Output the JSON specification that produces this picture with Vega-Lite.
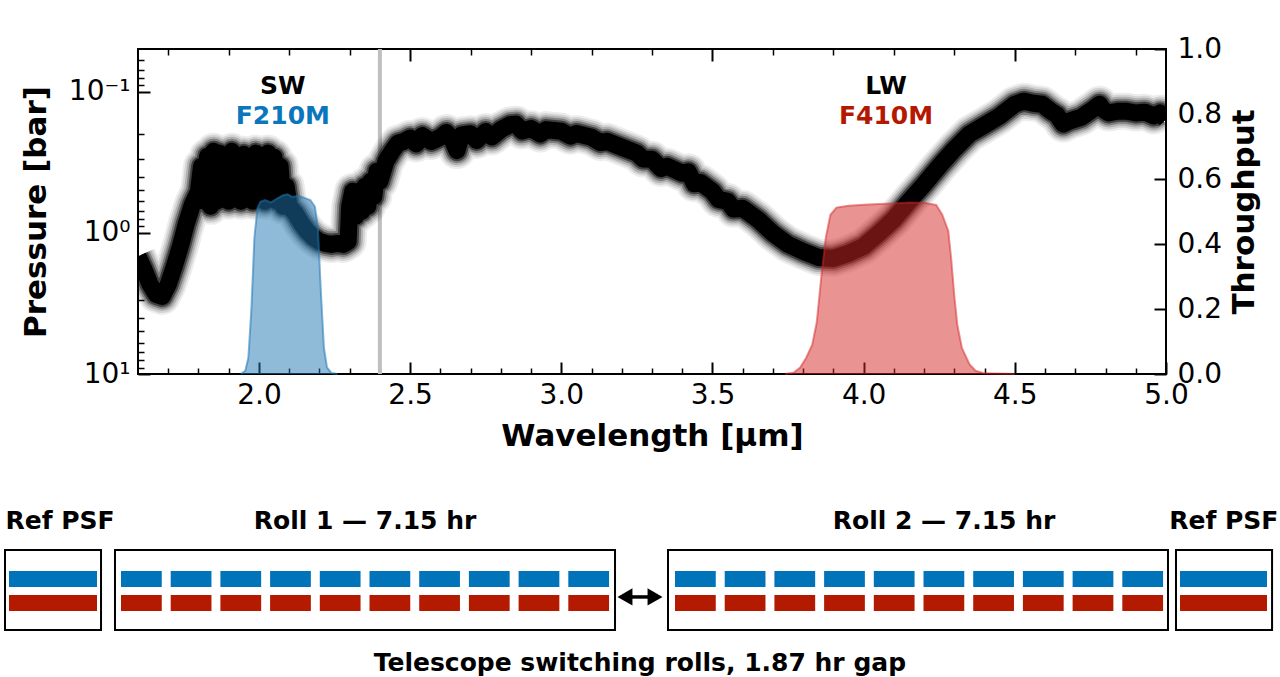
{
  "$schema": "https://vega.github.io/schema/vega-lite/v6.json",
  "padding": {"top": 34, "left": 4, "right": 2, "bottom": 0},
  "spacing": 54,
  "background": "white",
  "config": {
    "view": {"stroke": null},
    "font": "DejaVu Sans",
    "axis": {"labelFont": "DejaVu Sans", "labelFontSize": 28, "labelColor": "black", "titleFont": "DejaVu Sans", "titleFontSize": 31, "titleFontWeight": "bold", "titleColor": "black", "tickColor": "black", "domain": false, "grid": false, "labelFlush": false, "labelOverlap": false}
  },
  "datasets": {
    "cut": [{"w": 2.4}],
    "spectrum": [
      {"w": 1.60, "p": 1.470}, {"w": 1.62, "p": 1.818}, {"w": 1.64, "p": 2.323}, {"w": 1.66, "p": 2.735}, {"w": 1.68, "p": 2.825},
      {"w": 1.70, "p": 2.323}, {"w": 1.72, "p": 1.731}, {"w": 1.74, "p": 1.249}, {"w": 1.76, "p": 0.858}, {"w": 1.78, "p": 0.629},
      {"w": 1.80, "p": 0.509}, {"w": 1.81, "p": 0.338}, {"w": 1.82, "p": 0.599}, {"w": 1.83, "p": 0.287}, {"w": 1.84, "p": 0.650},
      {"w": 1.85, "p": 0.265}, {"w": 1.86, "p": 0.599}, {"w": 1.87, "p": 0.273}, {"w": 1.88, "p": 0.580}, {"w": 1.89, "p": 0.287},
      {"w": 1.90, "p": 0.599}, {"w": 1.91, "p": 0.265}, {"w": 1.92, "p": 0.561}, {"w": 1.93, "p": 0.287}, {"w": 1.94, "p": 0.599},
      {"w": 1.95, "p": 0.278}, {"w": 1.96, "p": 0.580}, {"w": 1.97, "p": 0.287}, {"w": 1.98, "p": 0.599}, {"w": 1.99, "p": 0.273},
      {"w": 2.00, "p": 0.570}, {"w": 2.01, "p": 0.287}, {"w": 2.02, "p": 0.599}, {"w": 2.03, "p": 0.273}, {"w": 2.04, "p": 0.580},
      {"w": 2.05, "p": 0.292}, {"w": 2.06, "p": 0.599}, {"w": 2.07, "p": 0.338}, {"w": 2.08, "p": 0.650}, {"w": 2.09, "p": 0.469},
      {"w": 2.10, "p": 0.650}, {"w": 2.12, "p": 0.729}, {"w": 2.14, "p": 0.858}, {"w": 2.16, "p": 0.977}, {"w": 2.18, "p": 1.078},
      {"w": 2.20, "p": 1.151}, {"w": 2.22, "p": 1.189}, {"w": 2.24, "p": 1.209}, {"w": 2.26, "p": 1.189}, {"w": 2.28, "p": 1.209},
      {"w": 2.295, "p": 1.151}, {"w": 2.30, "p": 0.650}, {"w": 2.31, "p": 0.509}, {"w": 2.32, "p": 0.765}, {"w": 2.33, "p": 0.509},
      {"w": 2.34, "p": 0.705}, {"w": 2.35, "p": 0.469}, {"w": 2.36, "p": 0.650}, {"w": 2.37, "p": 0.432}, {"w": 2.38, "p": 0.552},
      {"w": 2.39, "p": 0.367}, {"w": 2.40, "p": 0.432}, {"w": 2.42, "p": 0.312}, {"w": 2.44, "p": 0.265}, {"w": 2.46, "p": 0.232},
      {"w": 2.48, "p": 0.225}, {"w": 2.50, "p": 0.214}, {"w": 2.52, "p": 0.235}, {"w": 2.54, "p": 0.205}, {"w": 2.57, "p": 0.226},
      {"w": 2.60, "p": 0.211}, {"w": 2.62, "p": 0.195}, {"w": 2.64, "p": 0.222}, {"w": 2.655, "p": 0.262}, {"w": 2.67, "p": 0.203},
      {"w": 2.70, "p": 0.199}, {"w": 2.72, "p": 0.222}, {"w": 2.75, "p": 0.192}, {"w": 2.77, "p": 0.210}, {"w": 2.80, "p": 0.186},
      {"w": 2.83, "p": 0.172}, {"w": 2.85, "p": 0.170}, {"w": 2.87, "p": 0.190}, {"w": 2.90, "p": 0.183}, {"w": 2.93, "p": 0.200},
      {"w": 2.95, "p": 0.186}, {"w": 3.00, "p": 0.191}, {"w": 3.03, "p": 0.207}, {"w": 3.05, "p": 0.198}, {"w": 3.10, "p": 0.211},
      {"w": 3.13, "p": 0.230}, {"w": 3.15, "p": 0.225}, {"w": 3.20, "p": 0.248}, {"w": 3.25, "p": 0.273}, {"w": 3.27, "p": 0.300},
      {"w": 3.30, "p": 0.302}, {"w": 3.33, "p": 0.350}, {"w": 3.35, "p": 0.338}, {"w": 3.40, "p": 0.379}, {"w": 3.42, "p": 0.37},
      {"w": 3.44, "p": 0.45}, {"w": 3.46, "p": 0.44}, {"w": 3.50, "p": 0.509}, {"w": 3.52, "p": 0.58}, {"w": 3.55, "p": 0.599},
      {"w": 3.57, "p": 0.68}, {"w": 3.60, "p": 0.671}, {"w": 3.65, "p": 0.803}, {"w": 3.70, "p": 1.010}, {"w": 3.75, "p": 1.209},
      {"w": 3.80, "p": 1.355}, {"w": 3.85, "p": 1.495}, {"w": 3.90, "p": 1.519}, {"w": 3.95, "p": 1.400}, {"w": 4.00, "p": 1.249},
      {"w": 4.05, "p": 1.010}, {"w": 4.10, "p": 0.803}, {"w": 4.15, "p": 0.599}, {"w": 4.20, "p": 0.454}, {"w": 4.25, "p": 0.338},
      {"w": 4.30, "p": 0.256}, {"w": 4.35, "p": 0.200}, {"w": 4.40, "p": 0.173}, {"w": 4.45, "p": 0.149}, {"w": 4.50, "p": 0.123},
      {"w": 4.53, "p": 0.117}, {"w": 4.56, "p": 0.121}, {"w": 4.59, "p": 0.123}, {"w": 4.62, "p": 0.138}, {"w": 4.64, "p": 0.147},
      {"w": 4.66, "p": 0.170}, {"w": 4.68, "p": 0.162}, {"w": 4.70, "p": 0.157}, {"w": 4.72, "p": 0.152}, {"w": 4.74, "p": 0.142},
      {"w": 4.76, "p": 0.133}, {"w": 4.78, "p": 0.123}, {"w": 4.79, "p": 0.133}, {"w": 4.81, "p": 0.142}, {"w": 4.84, "p": 0.138},
      {"w": 4.87, "p": 0.138}, {"w": 4.90, "p": 0.142}, {"w": 4.93, "p": 0.140}, {"w": 4.96, "p": 0.149}, {"w": 4.98, "p": 0.142},
      {"w": 5.00, "p": 0.157}
    ],
    "f210m": [
      {"w": 1.94, "t": 0}, {"w": 1.955, "t": 0.01}, {"w": 1.965, "t": 0.05}, {"w": 1.975, "t": 0.2}, {"w": 1.985, "t": 0.42},
      {"w": 1.995, "t": 0.51}, {"w": 2.005, "t": 0.53}, {"w": 2.02, "t": 0.535}, {"w": 2.04, "t": 0.528}, {"w": 2.06, "t": 0.54},
      {"w": 2.08, "t": 0.55}, {"w": 2.095, "t": 0.553}, {"w": 2.11, "t": 0.545}, {"w": 2.13, "t": 0.548}, {"w": 2.15, "t": 0.542},
      {"w": 2.17, "t": 0.535}, {"w": 2.185, "t": 0.515}, {"w": 2.195, "t": 0.45}, {"w": 2.205, "t": 0.25}, {"w": 2.215, "t": 0.08},
      {"w": 2.225, "t": 0.02}, {"w": 2.24, "t": 0.003}, {"w": 2.26, "t": 0}
    ],
    "f410m": [
      {"w": 3.74, "t": 0}, {"w": 3.77, "t": 0.005}, {"w": 3.79, "t": 0.02}, {"w": 3.81, "t": 0.05}, {"w": 3.83, "t": 0.09},
      {"w": 3.845, "t": 0.16}, {"w": 3.86, "t": 0.30}, {"w": 3.875, "t": 0.42}, {"w": 3.89, "t": 0.49}, {"w": 3.91, "t": 0.512},
      {"w": 3.95, "t": 0.518}, {"w": 4.00, "t": 0.521}, {"w": 4.05, "t": 0.523}, {"w": 4.10, "t": 0.525}, {"w": 4.15, "t": 0.528},
      {"w": 4.20, "t": 0.527}, {"w": 4.24, "t": 0.52}, {"w": 4.26, "t": 0.49}, {"w": 4.28, "t": 0.44}, {"w": 4.29, "t": 0.35},
      {"w": 4.30, "t": 0.24}, {"w": 4.31, "t": 0.15}, {"w": 4.325, "t": 0.08}, {"w": 4.35, "t": 0.03}, {"w": 4.37, "t": 0.01},
      {"w": 4.40, "t": 0.002}, {"w": 4.50, "t": 0}
    ],
    "filterNames": [
      {"module": "SW", "filter": "F210M", "w": 2.079},
      {"module": "LW", "filter": "F410M", "w": 4.074}
    ],
    "boxes": [
      {"block": "Ref PSF before", "start": -2.334, "end": -0.402},
      {"block": "Roll 1", "start": -0.121, "end": 9.94},
      {"block": "Roll 2", "start": 11.006, "end": 21.066},
      {"block": "Ref PSF after", "start": 21.227, "end": 23.16}
    ],
    "exposures": [
      {"block": "Ref PSF before", "start": -2.254, "end": -0.483},
      {"block": "Roll 1", "start": 0, "end": 0.82}, {"block": "Roll 1", "start": 1, "end": 1.82},
      {"block": "Roll 1", "start": 2, "end": 2.82}, {"block": "Roll 1", "start": 3, "end": 3.82},
      {"block": "Roll 1", "start": 4, "end": 4.82}, {"block": "Roll 1", "start": 5, "end": 5.82},
      {"block": "Roll 1", "start": 6, "end": 6.82}, {"block": "Roll 1", "start": 7, "end": 7.82},
      {"block": "Roll 1", "start": 8, "end": 8.82}, {"block": "Roll 1", "start": 9, "end": 9.82},
      {"block": "Roll 2", "start": 11.147, "end": 11.967}, {"block": "Roll 2", "start": 12.147, "end": 12.967},
      {"block": "Roll 2", "start": 13.147, "end": 13.967}, {"block": "Roll 2", "start": 14.147, "end": 14.967},
      {"block": "Roll 2", "start": 15.147, "end": 15.967}, {"block": "Roll 2", "start": 16.147, "end": 16.967},
      {"block": "Roll 2", "start": 17.147, "end": 17.967}, {"block": "Roll 2", "start": 18.147, "end": 18.967},
      {"block": "Roll 2", "start": 19.147, "end": 19.967}, {"block": "Roll 2", "start": 20.147, "end": 20.967},
      {"block": "Ref PSF after", "start": 21.308, "end": 23.058}
    ],
    "blockLabels": [
      {"label": "Ref PSF", "pos": -1.227},
      {"label": "Roll 1 — 7.15 hr", "pos": 4.91},
      {"label": "Roll 2 — 7.15 hr", "pos": 16.56},
      {"label": "Ref PSF", "pos": 22.19}
    ],
    "gap": [{"from": 10.14, "to": 10.745, "mid": 10.44, "note": "Telescope switching rolls, 1.87 hr gap"}]
  },
  "vconcat": [
    {
      "width": 1028,
      "height": 325,
      "view": {"stroke": "black", "strokeWidth": 2},
      "layer": [
        {
          "data": {"name": "cut"},
          "mark": {"type": "rule", "color": "#bfbfbf", "strokeWidth": 4},
          "encoding": {"x": {"field": "w", "type": "quantitative", "scale": {"domain": [1.6, 5], "nice": false, "zero": false}, "axis": null}}
        },
        {
          "data": {"name": "spectrum"},
          "encoding": {
            "x": {"field": "w", "type": "quantitative", "scale": {"domain": [1.6, 5], "nice": false, "zero": false},
              "axis": {"orient": "bottom", "title": "Wavelength [μm]", "titlePadding": 12,
                "values": [1.7, 1.8, 1.9, 2.0, 2.1, 2.2, 2.3, 2.4, 2.5, 2.6, 2.7, 2.8, 2.9, 3.0, 3.1, 3.2, 3.3, 3.4, 3.5, 3.6, 3.7, 3.8, 3.9, 4.0, 4.1, 4.2, 4.3, 4.4, 4.5, 4.6, 4.7, 4.8, 4.9, 5.0],
                "labelExpr": "abs(datum.value*2 - round(datum.value*2)) < 0.01 ? format(datum.value, '.1f') : ''",
                "tickSize": {"condition": {"test": "abs(datum.value*2 - round(datum.value*2)) < 0.01", "value": -12}, "value": -6},
                "tickWidth": {"condition": {"test": "abs(datum.value*2 - round(datum.value*2)) < 0.01", "value": 2}, "value": 1.5},
                "labelPadding": {"condition": {"test": "abs(datum.value*2 - round(datum.value*2)) < 0.01", "value": 19}, "value": 0}}},
            "y": {"field": "p", "type": "quantitative", "scale": {"type": "log", "domain": [0.05, 10], "reverse": true, "nice": false},
              "axis": {"orient": "left", "title": "Pressure [bar]", "titlePadding": 16,
                "values": [0.06, 0.07, 0.08, 0.09, 0.1, 0.2, 0.3, 0.4, 0.5, 0.6, 0.7, 0.8, 0.9, 1, 2, 3, 4, 5, 6, 7, 8, 9, 10],
                "labelExpr": "datum.value == 0.1 ? '10⁻¹' : (datum.value == 1 ? '10⁰' : (datum.value == 10 ? '10¹' : ''))",
                "tickSize": {"condition": {"test": "indexof([0.1, 1, 10], datum.value) >= 0", "value": -12}, "value": -6},
                "tickWidth": {"condition": {"test": "indexof([0.1, 1, 10], datum.value) >= 0", "value": 2}, "value": 1.5},
                "labelPadding": {"condition": {"test": "indexof([0.1, 1, 10], datum.value) >= 0", "value": 20}, "value": 0}}}
          },
          "layer": [
            {"mark": {"type": "line", "color": "black", "strokeWidth": 37, "opacity": 0.07, "strokeJoin": "round", "clip": true}},
            {"mark": {"type": "line", "color": "black", "strokeWidth": 33, "opacity": 0.1, "strokeJoin": "round", "clip": true}},
            {"mark": {"type": "line", "color": "black", "strokeWidth": 29, "opacity": 0.16, "strokeJoin": "round", "clip": true}},
            {"mark": {"type": "line", "color": "black", "strokeWidth": 25, "opacity": 0.28, "strokeJoin": "round", "clip": true}},
            {"mark": {"type": "line", "color": "black", "strokeWidth": 21, "opacity": 0.5, "strokeJoin": "round", "clip": true}},
            {"mark": {"type": "line", "color": "black", "strokeWidth": 17, "opacity": 1, "strokeJoin": "round", "clip": true}}
          ]
        },
        {
          "layer": [
            {"data": {"name": "f210m"},
              "mark": {"type": "area", "color": "#1f77b4", "opacity": 0.5, "line": {"color": "#1f77b4", "strokeWidth": 2, "opacity": 0.55}},
              "encoding": {
                "x": {"field": "w", "type": "quantitative", "scale": {"domain": [1.6, 5], "nice": false, "zero": false},
                  "axis": {"orient": "top", "title": null, "labels": false,
                    "values": [1.7, 1.8, 1.9, 2.0, 2.1, 2.2, 2.3, 2.4, 2.5, 2.6, 2.7, 2.8, 2.9, 3.0, 3.1, 3.2, 3.3, 3.4, 3.5, 3.6, 3.7, 3.8, 3.9, 4.0, 4.1, 4.2, 4.3, 4.4, 4.5, 4.6, 4.7, 4.8, 4.9],
                    "tickSize": {"condition": {"test": "abs(datum.value*2 - round(datum.value*2)) < 0.01", "value": -12}, "value": -6},
                    "tickWidth": {"condition": {"test": "abs(datum.value*2 - round(datum.value*2)) < 0.01", "value": 2}, "value": 1.5}}},
                "y": {"field": "t", "type": "quantitative", "scale": {"domain": [0, 1], "nice": false, "zero": false},
                  "axis": {"orient": "right", "title": "Throughput", "titlePadding": 8, "titleAngle": 270, "titleBaseline": "top",
                    "values": [0, 0.05, 0.1, 0.15, 0.2, 0.25, 0.3, 0.35, 0.4, 0.45, 0.5, 0.55, 0.6, 0.65, 0.7, 0.75, 0.8, 0.85, 0.9, 0.95, 1.0],
                    "labelExpr": "abs(datum.value*5 - round(datum.value*5)) < 0.01 ? format(datum.value, '.1f') : ''",
                    "tickSize": {"condition": {"test": "abs(datum.value*5 - round(datum.value*5)) < 0.01", "value": -12}, "value": -6},
                    "tickWidth": {"condition": {"test": "abs(datum.value*5 - round(datum.value*5)) < 0.01", "value": 2}, "value": 1.5},
                    "labelPadding": {"condition": {"test": "abs(datum.value*5 - round(datum.value*5)) < 0.01", "value": 23}, "value": 0}}}
              }},
            {"data": {"name": "f410m"},
              "mark": {"type": "area", "color": "#d62728", "opacity": 0.5, "line": {"color": "#d62728", "strokeWidth": 2, "opacity": 0.5}},
              "encoding": {
                "x": {"field": "w", "type": "quantitative"},
                "y": {"field": "t", "type": "quantitative"}
              }},
            {"data": {"name": "filterNames"},
              "mark": {"type": "text", "fontWeight": "bold", "fontSize": 25, "baseline": "alphabetic", "align": "center", "color": "black"},
              "encoding": {
                "x": {"field": "w", "type": "quantitative"},
                "y": {"datum": 0.8615, "type": "quantitative"},
                "text": {"field": "module"}
              }},
            {"data": {"name": "filterNames"},
              "mark": {"type": "text", "fontWeight": "bold", "fontSize": 25, "baseline": "alphabetic", "align": "center"},
              "encoding": {
                "x": {"field": "w", "type": "quantitative"},
                "y": {"datum": 0.769, "type": "quantitative"},
                "text": {"field": "filter"},
                "color": {"field": "filter", "type": "nominal", "scale": {"domain": ["F210M", "F410M"], "range": ["#0a76bc", "#b51800"]}, "legend": null}
              }}
          ]
        }
      ],
      "resolve": {"scale": {"y": "independent"}, "axis": {"x": "independent"}}
    },
    {
      "width": 1028,
      "height": 170,
      "layer": [
        {
          "data": {"name": "boxes"},
          "mark": {"type": "rect", "filled": false, "color": "black", "strokeWidth": 2},
          "encoding": {
            "x": {"field": "start", "type": "quantitative", "scale": {"domain": [0.342, 21.026], "nice": false, "zero": false}, "axis": null},
            "x2": {"field": "end"},
            "y": {"datum": 2.59, "type": "quantitative", "scale": {"domain": [0, 10], "reverse": true, "nice": false, "zero": false}, "axis": null},
            "y2": {"datum": 7.29}
          }
        },
        {
          "data": {"name": "exposures"},
          "mark": {"type": "rect", "color": "#0173b9"},
          "encoding": {
            "x": {"field": "start", "type": "quantitative"}, "x2": {"field": "end"},
            "y": {"datum": 3.82, "type": "quantitative"}, "y2": {"datum": 4.76}
          }
        },
        {
          "data": {"name": "exposures"},
          "mark": {"type": "rect", "color": "#b31a00"},
          "encoding": {
            "x": {"field": "start", "type": "quantitative"}, "x2": {"field": "end"},
            "y": {"datum": 5.24, "type": "quantitative"}, "y2": {"datum": 6.18}
          }
        },
        {
          "data": {"name": "gap"},
          "mark": {"type": "rule", "color": "black", "strokeWidth": 3.5},
          "encoding": {"x": {"field": "from", "type": "quantitative"}, "x2": {"field": "to"}, "y": {"datum": 5.35, "type": "quantitative"}}
        },
        {
          "data": {"name": "gap"},
          "mark": {"type": "point", "shape": "triangle-left", "filled": true, "color": "black", "size": 300, "opacity": 1},
          "encoding": {"x": {"field": "from", "type": "quantitative"}, "y": {"datum": 5.35, "type": "quantitative"}}
        },
        {
          "data": {"name": "gap"},
          "mark": {"type": "point", "shape": "triangle-right", "filled": true, "color": "black", "size": 300, "opacity": 1},
          "encoding": {"x": {"field": "to", "type": "quantitative"}, "y": {"datum": 5.35, "type": "quantitative"}}
        },
        {
          "data": {"name": "gap"},
          "mark": {"type": "text", "fontWeight": "bold", "fontSize": 25, "color": "black", "baseline": "middle", "align": "center"},
          "encoding": {"x": {"field": "mid", "type": "quantitative"}, "y": {"datum": 9.24, "type": "quantitative"}, "text": {"field": "note"}}
        },
        {
          "data": {"name": "blockLabels"},
          "mark": {"type": "text", "fontWeight": "bold", "fontSize": 25, "color": "black", "baseline": "middle", "align": "center"},
          "encoding": {"x": {"field": "pos", "type": "quantitative"}, "y": {"datum": 0.88, "type": "quantitative"}, "text": {"field": "label"}}
        }
      ]
    }
  ]
}
